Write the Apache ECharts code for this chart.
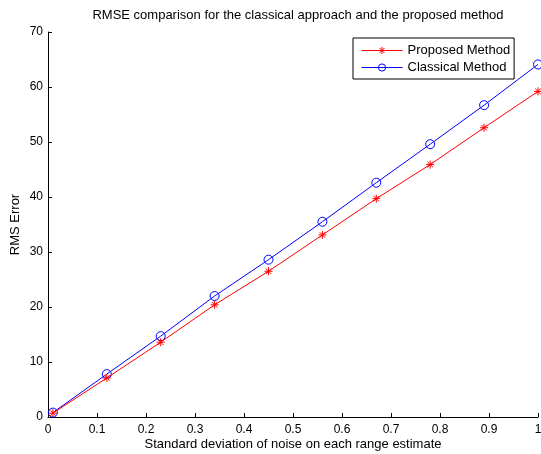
<!DOCTYPE html>
<html>
<head>
<meta charset="utf-8">
<script src="https://cdn.jsdelivr.net/npm/echarts@6/dist/echarts.min.js"></script>
<style>html,body{margin:0;padding:0;background:#fff}#c{width:541px;height:454px}</style>
</head>
<body>
<div id="c"></div>
<script>
const xValues = [0.01, 0.12, 0.23, 0.34, 0.45, 0.56, 0.67, 0.78, 0.89, 1.0];
const proposed = [0.7, 7.1, 13.6, 20.4, 26.5, 33.1, 39.7, 45.9, 52.6, 59.2];
const classical = [0.8, 7.8, 14.7, 22.0, 28.6, 35.5, 42.6, 49.6, 56.7, 64.1];
const seriesNames = ['Proposed Method', 'Classical Method'];
const titleText = 'RMSE comparison for the classical approach and the proposed method';
const xLabel = 'Standard deviation of noise on each range estimate';
const yLabel = 'RMS Error';

const FONT = 'Liberation Sans, Arial, sans-serif';
const star = 'path://M5 0L5 10M0 5L10 5M1.5 1.5L8.5 8.5M8.5 1.5L1.5 8.5';

function pairs(ys){ return xValues.map((x,i)=>[x, ys[i]]); }

const chart = echarts.init(document.getElementById('c'), null, {renderer:'canvas'});
chart.setOption({
  animation: false,
  backgroundColor: '#fff',
  title: {
    text: titleText, left: 293, top: 4, textAlign: 'center',
    textStyle: {fontFamily: FONT, fontSize: 13, fontWeight: 'normal', color: '#000'}
  },
  legend: {
    orient: 'vertical', left: 353, top: 38,
    backgroundColor: '#fff', borderColor: '#000', borderWidth: 1,
    padding: [6, 4, 5, 8], itemGap: 4, itemWidth: 41, itemHeight: 9,
    textStyle: {fontFamily: FONT, fontSize: 13, color: '#000'},
    lineStyle: {width: 1},
    data: [
      {name: seriesNames[0], itemStyle: {color: 'rgba(0,0,0,0)', borderColor: '#ff0000', borderWidth: 1}},
      {name: seriesNames[1], itemStyle: {color: 'rgba(0,0,0,0)', borderColor: '#0000ff', borderWidth: 1}}
    ]
  },
  grid: {left: 48, right: 3, top: 32, bottom: 37, containLabel: false, outerBoundsMode: 'none'},
  xAxis: {
    type: 'value', min: 0, max: 1, interval: 0.1,
    name: xLabel, nameLocation: 'middle', nameGap: 21, nameMoveOverlap: false,
    nameTextStyle: {fontFamily: FONT, fontSize: 13, color: '#000'},
    axisLine: {show: true, lineStyle: {color: '#000', width: 1}},
    axisTick: {show: true, inside: true, length: 4, lineStyle: {color: '#000'}},
    axisLabel: {fontFamily: FONT, fontSize: 12, color: '#000', margin: 7},
    splitLine: {show: false}
  },
  yAxis: {
    type: 'value', min: 0, max: 70, interval: 10,
    name: yLabel, nameLocation: 'middle', nameGap: 26, nameMoveOverlap: false,
    nameTextStyle: {fontFamily: FONT, fontSize: 13, color: '#000'},
    axisLine: {show: true, lineStyle: {color: '#000', width: 1}},
    axisTick: {show: true, inside: true, length: 4, lineStyle: {color: '#000'}},
    axisLabel: {fontFamily: FONT, fontSize: 12, color: '#000', margin: 5},
    splitLine: {show: false}
  },
  series: [
    {
      name: seriesNames[0], type: 'line', data: pairs(proposed),
      symbol: star, symbolSize: 8, showAllSymbol: true,
      lineStyle: {color: '#ff0000', width: 1},
      itemStyle: {color: 'rgba(0,0,0,0)', borderColor: '#ff0000', borderWidth: 1},
      emphasis: {disabled: true}, z: 3
    },
    {
      name: seriesNames[1], type: 'line', data: pairs(classical),
      symbol: 'circle', symbolSize: 9, showAllSymbol: true,
      lineStyle: {color: '#0000ff', width: 1},
      itemStyle: {color: 'rgba(0,0,0,0)', borderColor: '#0000ff', borderWidth: 1},
      emphasis: {disabled: true}, z: 2
    }
  ]
});
</script>
</body>
</html>
